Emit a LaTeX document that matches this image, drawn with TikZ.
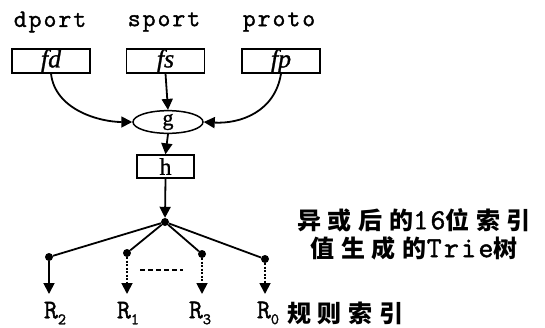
\documentclass[tikz,border=0pt]{standalone}
\usepackage{fontspec}
\setmainfont{Liberation Serif}[FakeBold=1]
\newfontfamily\cjk[LetterSpace=28]{Noto Sans CJK SC}
\newfontfamily\lmtt[LetterSpace=8, FakeBold=1.5]{Latin Modern Mono}
\usetikzlibrary{arrows.meta,shapes.geometric}
\newcommand{\rsub}[1]{R\raisebox{-6pt}{\fontsize{16}{16}\selectfont #1}}
\begin{document}
\begin{tikzpicture}[x=1pt,y=-1pt,
  lbl/.style={font=\lmtt\fontsize{25}{27}\selectfont, inner sep=0pt},
  fbox/.style={draw, line width=1.3pt, minimum width=78pt, minimum height=22pt, inner sep=0pt, font=\itshape\fontsize{26}{26}\selectfont},
  hbox/.style={draw, line width=1.3pt, minimum width=57pt, minimum height=23pt, inner sep=0pt, font=\fontsize{24}{24}\selectfont},
  gell/.style={draw, ellipse, line width=1.5pt, minimum width=70pt, minimum height=20pt, inner sep=0pt, font=\fontsize{22}{22}\selectfont},
  tdot/.style={circle, fill, minimum size=8pt, inner sep=0pt},
  conn/.style={line width=1.8pt},
  arr/.style={line width=1.8pt, -{Triangle[length=11pt,width=11pt]}},
  darr/.style={line width=1.8pt, dash pattern=on 2pt off 1.5pt, -{Triangle[length=11pt,width=11pt]}},
  rlbl/.style={font=\lmtt\fontsize{27}{29}\selectfont, inner sep=0pt},
  cjkt/.style={font=\cjk\bfseries\fontsize{24}{26}\selectfont, inner sep=0pt}
]
\useasboundingbox (0,0) rectangle (545,327);
\node[lbl] (ld) at (50,22) {dport};
\node[lbl] (ls) at (164,22) {sport};
\node[lbl] (lp) at (279,22) {proto};
\node[fbox] (fd) at (51,61) {fd};
\node[fbox] (fs) at (165.5,61) {fs};
\node[fbox] (fp) at (281,61) {fp};
\node[gell] (g) at (168,122) {g};
\node[hbox] (h) at (165.5,166.5) {h};
\node[tdot] (r) at (165,222) {};
\node[tdot] (c2) at (49,257) {};
\node[tdot] (c1) at (127,253) {};
\node[tdot] (c3) at (202,254) {};
\node[tdot] (c0) at (265,259) {};
\coordinate (e2) at (49,294);
\coordinate (e1) at (127,294);
\coordinate (e3) at (202,294);
\coordinate (e0) at (265,294);
\coordinate (dl) at (140,270);
\coordinate (dr) at (183,270);
\draw[arr] (fd.south) .. controls (55,110) and (100,122) .. (g.west);
\draw[arr] (fp.south) .. controls (275,112) and (240,124) .. (g.east);
\draw[arr] (fs.south) -- (g.north);
\draw[arr] (g.south) -- (h.north);
\draw[arr] (h.south) -- (r.north);
\draw[conn] (r) -- (c2);
\draw[conn] (r) -- (c1);
\draw[conn] (r) -- (c3);
\draw[conn] (r) -- (c0);
\draw[arr] (c2) -- (e2);
\draw[darr] (c1) -- (e1);
\draw[darr] (c3) -- (e3);
\draw[darr] (c0) -- (e0);
\draw[line width=2.5pt, dash pattern=on 5pt off 3pt] (dl) -- (dr);
\node[rlbl] (r2) at (55,313) {\rsub{2}};
\node[rlbl] (r1) at (128,313) {\rsub{1}};
\node[rlbl] (r3) at (200,313) {\rsub{3}};
\node[rlbl] (r0) at (268,313) {\rsub{0}};
\node[cjkt, anchor=west] (gz) at (287,313) {规则索引};
\node[cjkt] (t1) at (414,220) {异或后的{\lmtt\fontsize{29}{29}\selectfont 16}位索引};
\node[cjkt] (t2) at (414,248) {值生成的{\lmtt\fontsize{29}{29}\selectfont Trie}树};
\end{tikzpicture}
\end{document}
